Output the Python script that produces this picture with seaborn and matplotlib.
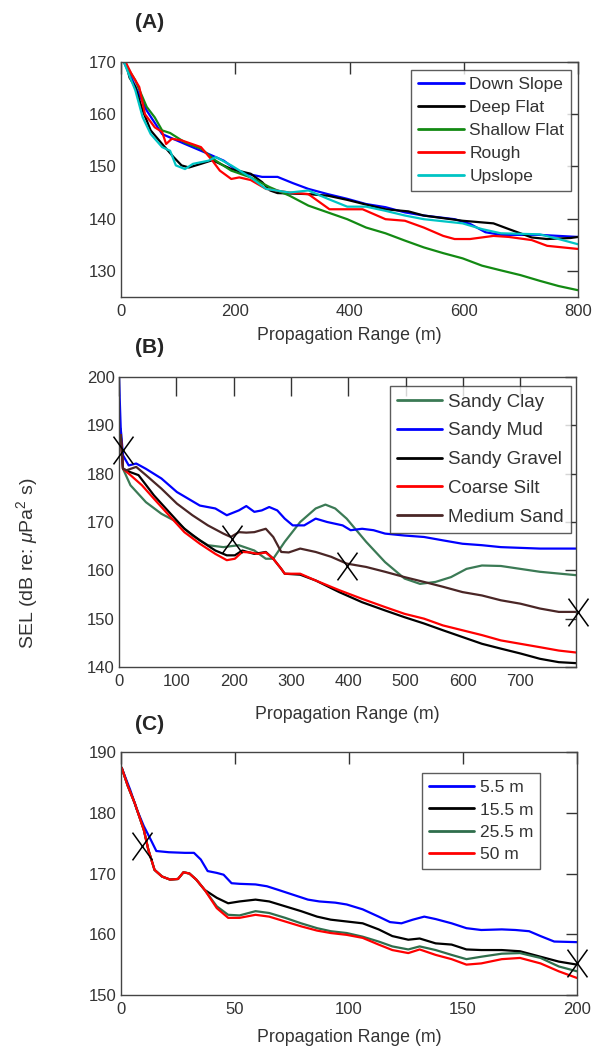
import numpy as np
import pandas as pd
import seaborn as sns
import matplotlib.pyplot as plt
from matplotlib.path import Path

# ---- panel A : bathymetry cases ----
a_labels = ['Down Slope', 'Deep Flat', 'Shallow Flat', 'Rough', 'Upslope']
a_colors = ['#0000ff', '#000000', '#138a13', '#ff0000', '#00c4c4']

down_x = [5, 45, 72, 112, 153, 180, 207, 247, 274, 301, 328, 362, 396, 429, 463, 497, 530, 584, 611, 638, 665, 733, 766, 800]
down_y = [170, 160.7, 156.2, 154.3, 152.4, 151.1, 148.9, 148, 148, 146.8, 145.7, 144.7, 143.8, 142.8, 142.2, 141.2, 140.6, 139.9, 139, 137.4, 136.9, 136.9, 136.7, 136.5]

deep_x = [8, 15, 25, 38, 52, 72, 92, 106, 119, 140, 160, 193, 227, 247, 261, 274, 328, 362, 396, 429, 463, 503, 530, 598, 652, 679, 719, 746, 787, 800]
deep_y = [170, 167, 165.2, 160.7, 156.9, 154.3, 151.8, 150.2, 149.8, 150.5, 151.2, 149.5, 148.6, 147, 145.4, 144.9, 144.7, 144.4, 143.6, 142.7, 141.8, 141.4, 140.6, 139.6, 139.1, 138, 136.4, 136.1, 136.3, 136.5]

shallow_x = [5, 25, 45, 59, 72, 86, 112, 140, 166, 193, 227, 261, 295, 328, 362, 396, 429, 463, 497, 530, 564, 598, 632, 665, 699, 733, 766, 800]
shallow_y = [170, 166.5, 161.4, 159.4, 156.9, 156.4, 154.6, 153.4, 151.1, 149.2, 147.9, 146, 144.4, 142.5, 141.2, 139.9, 138.3, 137.2, 135.8, 134.5, 133.4, 132.4, 131, 130.1, 129.2, 128.1, 127.1, 126.3]

rough_x = [8, 18, 32, 42, 59, 72, 79, 89, 106, 140, 160, 173, 193, 207, 227, 254, 295, 328, 365, 382, 423, 463, 497, 530, 564, 584, 611, 652, 679, 719, 746, 800]
rough_y = [170, 167.8, 165.2, 160, 157.5, 156.6, 154.3, 155.3, 155, 153.7, 151.1, 149.2, 147.6, 147.9, 147.4, 145.7, 145, 144.7, 141.8, 141.8, 141.8, 139.9, 139.6, 138.3, 136.7, 136.1, 136.1, 136.7, 136.5, 135.9, 134.8, 134.2]

up_x = [5, 25, 38, 52, 72, 86, 96, 112, 126, 153, 166, 193, 227, 254, 295, 328, 362, 396, 429, 463, 497, 530, 598, 632, 665, 733, 766, 800]
up_y = [170, 164.6, 159.4, 156.2, 153.7, 153, 150.2, 149.5, 150.5, 151.1, 151.8, 150.2, 147.9, 145.7, 145, 145.4, 143.8, 142.3, 142.3, 141.5, 140.6, 139.9, 139.1, 138, 137.2, 137, 136.1, 135.1]

# ---- panel B : sediment types ----
b_labels = ['Sandy Clay', 'Sandy Mud', 'Sandy Gravel', 'Coarse Silt', 'Medium Sand']
b_colors = ['#3b7a55', '#0000ff', '#000000', '#ff0000', '#4a2626']

clay_x = [3, 7, 20, 47, 74, 101, 128, 155, 182, 209, 236, 256, 269, 289, 316, 343, 360, 377, 397, 431, 464, 498, 525, 552, 579, 606, 633, 666, 700, 734, 797]
clay_y = [189.3, 181, 177.6, 174.1, 171.7, 170, 167.2, 165.2, 164.8, 165.2, 164.1, 162.4, 162.4, 165.9, 170, 172.8, 173.6, 172.8, 170.7, 165.9, 161.7, 158.3, 157.2, 157.6, 158.6, 160.3, 161, 160.9, 160.3, 159.7, 159]

mud_x = [0, 3, 7, 17, 30, 47, 74, 101, 121, 141, 168, 188, 209, 222, 236, 249, 262, 276, 289, 303, 323, 343, 363, 390, 404, 424, 444, 464, 498, 532, 565, 599, 633, 666, 734, 797]
mud_y = [200, 189.3, 183.8, 181.7, 182.1, 181, 179, 176.2, 174.8, 173.4, 172.8, 171.4, 172.4, 173.3, 172.1, 172.4, 173.1, 172.4, 170.7, 169.3, 169.3, 170.7, 170, 169.3, 168.3, 168.6, 168.3, 167.6, 167.2, 166.9, 166.2, 165.5, 165.2, 164.8, 164.5, 164.5]

gravel_x = [3, 7, 20, 34, 61, 87, 114, 141, 168, 188, 202, 215, 236, 256, 269, 283, 289, 316, 343, 384, 424, 464, 498, 532, 565, 599, 633, 666, 700, 734, 767, 797]
gravel_y = [188, 181, 180.3, 179.7, 175.5, 172.1, 168.6, 166.2, 164.1, 163.1, 163.1, 164.1, 163.4, 163.8, 162.4, 160.3, 159.3, 159.1, 157.9, 155.5, 153.4, 151.7, 150.3, 149, 147.6, 146.2, 144.8, 143.8, 142.8, 141.7, 141, 140.8]

silt_x = [3, 7, 20, 40, 61, 87, 114, 141, 168, 188, 202, 215, 229, 242, 256, 269, 283, 289, 316, 343, 384, 424, 464, 498, 532, 565, 599, 633, 666, 700, 734, 767, 797]
silt_y = [188, 181, 179.7, 177.6, 174.8, 171.4, 167.9, 165.5, 163.4, 162.1, 162.4, 163.8, 163.7, 163.4, 163.7, 162.4, 160.3, 159.3, 159.3, 157.9, 155.9, 154.1, 152.4, 151, 150, 148.6, 147.6, 146.6, 145.5, 144.8, 144.1, 143.4, 143]

sand_x = [3, 7, 13, 30, 47, 74, 101, 128, 155, 182, 195, 209, 222, 236, 256, 269, 283, 296, 316, 343, 370, 397, 431, 464, 498, 532, 565, 599, 633, 666, 700, 734, 767, 797]
sand_y = [188, 181, 180.7, 181.4, 179.7, 176.9, 173.8, 171.4, 169.3, 167.6, 166.9, 167.9, 167.8, 167.9, 168.6, 166.9, 163.8, 163.7, 164.5, 163.8, 162.8, 161.4, 160.7, 159.7, 158.6, 157.6, 156.6, 155.5, 154.8, 153.8, 153.1, 152.1, 151.4, 151.4]

b_mark_x = [7, 197, 397, 800]
b_mark_y = [185, 166.4, 160.9, 151.3]

# ---- panel C : receiver depths ----
c_labels = ['5.5 m', '15.5 m', '25.5 m', '50 m']
c_colors = ['#0000ff', '#000000', '#2f6e4c', '#ff0000']

d55_x = [0.3, 4, 7, 10, 13, 15.5, 21, 28, 32, 35, 38, 42, 45, 48.5, 52, 59, 64, 69, 75.5, 82, 87, 94, 99, 106, 113, 118, 123, 128, 133, 138, 145, 151.5, 158, 167, 173, 179, 184, 190, 200]
d55_y = [187.4, 183.8, 180.5, 177.8, 175.6, 173.7, 173.5, 173.4, 173.4, 172.3, 170.4, 170.1, 169.8, 168.4, 168.3, 168.2, 167.9, 167.3, 166.5, 165.7, 165.4, 165.2, 164.9, 164.1, 162.9, 162, 161.8, 162.4, 162.9, 162.5, 161.8, 161, 160.7, 160.8, 160.7, 160.5, 159.7, 158.8, 158.7]

c_x = [0.3, 3, 6, 10, 12, 14.7, 18, 21.5, 25, 27.4, 30, 33, 36.7, 42, 47, 52, 59, 65, 72, 79, 86, 92, 99, 106, 113, 119, 126, 131, 138, 145, 151.5, 158, 167, 175, 184, 192, 200]
d155_y = [187.4, 184.4, 181.6, 177.2, 173.9, 170.6, 169.5, 169, 169.1, 170.2, 170, 169, 167.3, 166, 165.1, 165.4, 165.7, 165.4, 164.6, 163.8, 162.9, 162.4, 162.1, 161.8, 160.8, 159.7, 159.1, 159.3, 158.5, 158.3, 157.5, 157.4, 157.4, 157.2, 156.3, 155.5, 155]
d255_y = [187.4, 184.4, 181.6, 177.2, 173.9, 170.6, 169.5, 169, 169.1, 170.2, 170, 169, 167.3, 164.6, 163.2, 163.1, 163.8, 163.5, 162.7, 161.8, 161, 160.5, 160.2, 159.6, 158.8, 158, 157.5, 158, 157.4, 156.6, 155.9, 156.3, 156.8, 156.9, 156.1, 154.7, 153.9]
d50_y = [187.4, 184.4, 181.6, 177.2, 173.9, 170.6, 169.5, 169, 169.1, 170.2, 170, 169, 167.3, 164.3, 162.7, 162.7, 163.2, 162.9, 162.1, 161.3, 160.6, 160.2, 159.9, 159.4, 158.3, 157.4, 156.9, 157.5, 156.6, 155.9, 155, 155.2, 155.9, 156.1, 155.2, 153.9, 152.8]

c_mark_x = [9.3, 200]
c_mark_y = [174.5, 155.2]


def long_frame(labels, xs, ys):
    parts = [pd.DataFrame({'range': x, 'sel': y, 'case': lab}) for lab, x, y in zip(labels, xs, ys)]
    return pd.concat(parts, ignore_index=True)


df_a = long_frame(a_labels, [down_x, deep_x, shallow_x, rough_x, up_x],
                  [down_y, deep_y, shallow_y, rough_y, up_y])
df_b = long_frame(b_labels, [clay_x, mud_x, gravel_x, silt_x, sand_x],
                  [clay_y, mud_y, gravel_y, silt_y, sand_y])
df_c = long_frame(c_labels, [d55_x, c_x, c_x, c_x],
                  [d55_y, d155_y, d255_y, d50_y])

sns.set_theme(style='white')
plt.rcParams['font.family'] = ['Liberation Sans', 'DejaVu Sans']
plt.rcParams['mathtext.fontset'] = 'custom'
plt.rcParams['mathtext.it'] = 'Liberation Sans:italic'
plt.rcParams['mathtext.rm'] = 'Liberation Sans'

fig = plt.figure(figsize=(6.04, 10.46), dpi=100)
W, H = 604.0, 1046.0


def box(l, t, r, b):
    return [l / W, 1 - b / H, (r - l) / W, (b - t) / H]


ax_a = fig.add_axes(box(121, 62, 578, 297))
ax_b = fig.add_axes(box(119, 377, 576, 667))
ax_c = fig.add_axes(box(121, 752, 577, 995))

# narrow upright X marker like the MATLAB text marks
xmark = Path([(-0.36, -0.5), (0.36, 0.5), (-0.36, 0.5), (0.36, -0.5)],
             [Path.MOVETO, Path.LINETO, Path.MOVETO, Path.LINETO])

panels = [
    (ax_a, df_a, a_labels, a_colors, (0, 800), (125, 170), range(0, 801, 200), range(130, 171, 10), 8.6, 6),
    (ax_b, df_b, b_labels, b_colors, (0, 797), (140, 200), range(0, 701, 100), range(140, 201, 10), 14, 12),
    (ax_c, df_c, c_labels, c_colors, (0, 200), (150, 190), range(0, 201, 50), range(150, 191, 10), 8.6, 9),
]

for ax, df, labels, colors, xl, yl, xt, yt, xtl, lpad in panels:
    sns.lineplot(data=df, x='range', y='sel', hue='case', hue_order=labels,
                 palette=dict(zip(labels, colors)), sort=False, estimator=None,
                 linewidth=1.6, ax=ax)
    ax.set_xlim(*xl)
    ax.set_ylim(*yl)
    ax.set_xticks(list(xt))
    ax.set_yticks(list(yt))
    ax.tick_params(axis='both', direction='in', top=True, right=True,
                   labelsize=12, colors='#333333', width=1.0)
    ax.tick_params(axis='x', length=xtl, pad=5)
    ax.tick_params(axis='y', length=8, pad=3)
    for s in ax.spines.values():
        s.set_color('#444444')
        s.set_linewidth(1.0)
    ax.set_xlabel('Propagation Range (m)', fontsize=12.8, color='#333333', labelpad=lpad)
    ax.set_ylabel('')

ax_b.plot(b_mark_x, b_mark_y, linestyle='none', marker=xmark, markersize=20,
          markeredgewidth=1.1, color='black', clip_on=False, zorder=5)
ax_c.plot(c_mark_x, c_mark_y, linestyle='none', marker=xmark, markersize=20,
          markeredgewidth=1.1, color='black', clip_on=False, zorder=5)

leg_kw = dict(frameon=True, fancybox=False, handletextpad=0.3,
              borderpad=0.4, borderaxespad=0, loc='upper right')
for ax, anchor, fs, sp, hl in [(ax_a, ((571 - 121) / 457, 1 - (70 - 62) / 235), 12.5, 0.45, 2.65),
                               (ax_b, ((571 - 119) / 457, 1 - (386 - 377) / 290), 13.5, 0.62, 2.4),
                               (ax_c, ((540 - 121) / 456, 1 - (773 - 752) / 243), 12.5, 0.42, 2.6)]:
    h, l = ax.get_legend_handles_labels()
    leg = ax.legend(h, l, bbox_to_anchor=anchor, fontsize=fs, labelspacing=sp,
                    handlelength=hl, **leg_kw)
    leg.get_frame().set_edgecolor('#333333')
    leg.get_frame().set_linewidth(1.0)
    for t in leg.get_texts():
        t.set_color('#333333')
    for ln in leg.get_lines():
        ln.set_linewidth(2.0)

for lab, y in [('(A)', 22), ('(B)', 348), ('(C)', 725)]:
    fig.text(150 / W, 1 - y / H, lab, fontsize=15, fontweight='bold', ha='center', va='center')

fig.text(27 / W, 1 - 563 / H, r'SEL (dB re: $\mu$Pa$^2$ s)', rotation=90,
         fontsize=14, ha='center', va='center', color='#333333')

fig.savefig('out.png', dpi=100)
